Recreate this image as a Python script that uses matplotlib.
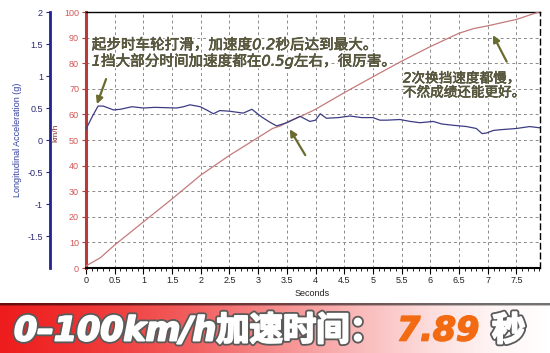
import numpy as np
import matplotlib
matplotlib.use("Agg")
import matplotlib.pyplot as plt
import matplotlib.patheffects as pe
from matplotlib.ticker import MultipleLocator

plt.rcParams['font.family'] = ['Liberation Sans', 'Noto Sans CJK SC', 'DejaVu Sans']

# ---------------- data ----------------
speed_t = [0, 0.25, 0.5, 1.0, 1.5, 2.0, 2.5, 3.0, 3.25, 3.4, 3.5, 3.75, 4.0, 4.5,
           5.0, 5.5, 6.0, 6.5, 6.75, 7.0, 7.5, 7.89]
speed_kmh = [0.8, 4.0, 9.0, 18.0, 27.0, 36.3, 44.0, 51.0, 54.5, 55.6, 57.0, 59.3,
             62.0, 68.5, 74.7, 80.8, 86.5, 91.7, 93.5, 94.6, 97.1, 100.0]

acc_t = [0, 0.1, 0.21, 0.3, 0.48, 0.6, 0.8, 1.0, 1.2, 1.58, 1.7, 1.81, 1.99, 2.1,
         2.22, 2.33, 2.5, 2.74, 2.89, 3.06, 3.2, 3.32, 3.5, 3.73, 3.9, 4.0, 4.08,
         4.19, 4.4, 4.6, 4.8, 5.0, 5.12, 5.24, 5.47, 5.65, 5.82, 6.05, 6.2, 6.4,
         6.63, 6.8, 6.9, 6.98, 7.1, 7.21, 7.5, 7.73, 7.91]
acc_g = [0.17, 0.35, 0.53, 0.53, 0.47, 0.48, 0.52, 0.50, 0.51, 0.50, 0.52, 0.55,
         0.52, 0.47, 0.41, 0.46, 0.45, 0.42, 0.48, 0.36, 0.28, 0.22, 0.27, 0.37,
         0.29, 0.31, 0.41, 0.34, 0.35, 0.375, 0.35, 0.35, 0.31, 0.31, 0.32, 0.29,
         0.27, 0.29, 0.25, 0.23, 0.21, 0.18, 0.10, 0.11, 0.15, 0.16, 0.18, 0.21, 0.19]

x_ticks = [0, 0.5, 1, 1.5, 2, 2.5, 3, 3.5, 4, 4.5, 5, 5.5, 6, 6.5, 7, 7.5]
x_tick_labels = ['0', '0.5', '1', '1.5', '2', '2.5', '3', '3.5', '4', '4.5',
                 '5', '5.5', '6', '6.5', '7', '7.5']
speed_ticks = [0, 10, 20, 30, 40, 50, 60, 70, 80, 90, 100]
acc_ticks = [2, 1.5, 1, 0.5, 0, -0.5, -1, -1.5]

note1 = "起步时车轮打滑，加速度0.2秒后达到最大。\n1挡大部分时间加速度都在0.5g左右，很厉害。"
note2 = "2次换挡速度都慢，\n不然成绩还能更好。"
banner_label = "0–100km/h加速时间："
banner_value = "7.89"
banner_unit = "秒"

# ---------------- figure ----------------
W, H = 550, 353
fig = plt.figure(figsize=(W / 100, H / 100), dpi=100)
fig.patch.set_facecolor('white')

L, R, T, B = 86, 540, 12, 268
ax = fig.add_axes([L / W, 1 - B / H, (R - L) / W, (B - T) / H])
ax.set_xlim(0, 7.91)
ax.set_ylim(0, 100)

red = '#b83a3a'
blue = '#23238f'

ax.plot(speed_t, speed_kmh, color='#c47a7a', lw=0.9, zorder=3)

ax.set_xticks(x_ticks)
ax.set_xticklabels(x_tick_labels, fontsize=6.5, color='#222222')
ax.xaxis.set_minor_locator(MultipleLocator(0.1))
ax.tick_params(axis='x', which='major', length=4, width=0.8, direction='out', pad=2)
ax.tick_params(axis='x', which='minor', length=2, width=0.6, direction='out')
ax.set_yticks(speed_ticks)
ax.set_yticklabels([str(v) for v in speed_ticks], fontsize=6.5, color='#d05858')
ax.tick_params(axis='y', length=3, width=0.8, color=red, pad=2)

ax.grid(True, which='major', color='#8a8a8a', lw=0.7, linestyle=(0, (3, 3)))
ax.set_axisbelow(True)

ax.spines['left'].set_color(red)
ax.spines['left'].set_linewidth(2.2)
ax.spines['bottom'].set_color('black')
ax.spines['bottom'].set_linewidth(1.5)
ax.spines['top'].set_color('black')
ax.spines['top'].set_linewidth(1.0)
ax.spines['right'].set_linestyle((0, (4, 3)))
ax.spines['right'].set_linewidth(1.0)

ax2 = ax.twinx()
ax2.set_ylim(-2, 2)
ax2.plot(acc_t, acc_g, color='#3c3c84', lw=0.9, zorder=4)
ax2.spines['left'].set_visible(True)
ax2.spines['left'].set_position(('axes', -(L - 50) / (R - L)))
ax2.spines['left'].set_color(blue)
ax2.spines['left'].set_linewidth(2.0)
for s in ['right', 'top', 'bottom']:
    ax2.spines[s].set_visible(False)
ax2.yaxis.set_ticks_position('left')
ax2.yaxis.set_label_position('left')
ax2.set_yticks(acc_ticks)
ax2.set_yticklabels([f"{v:g}" for v in acc_ticks], fontsize=6.5, color='#2a2a70')
ax2.tick_params(axis='y', length=3, width=0.8, color=blue, pad=2)

fig.text(18 / W, 1 - 140 / H, "Longitudinal Acceleration (g)", rotation=90,
         ha='center', va='center', fontsize=6.5, color='#3040a0')
fig.text(56 / W, 1 - 133 / H, "km/h", rotation=90, ha='center', va='center',
         fontsize=6, color='#8a2a2a')
fig.text(312 / W, 1 - 294 / H, "Seconds", ha='center', va='center',
         fontsize=6.5, color='#222222')

# annotations
note_kw = dict(color='#58583f', style='italic', family=['DejaVu Sans', 'Noto Sans CJK SC'],
               path_effects=[pe.withStroke(linewidth=2.5, foreground='white'),
                             pe.Stroke(linewidth=0.4, foreground='#58583f'), pe.Normal()],
               zorder=6)
ax.text(0.1, 84, note1, fontsize=10.5, ha='left', va='center', linespacing=1.05, **note_kw)
ax.text(5.52, 71.3, note2, fontsize=9.8, ha='left', va='center', linespacing=1.0, **note_kw)

arrow_kw = dict(arrowstyle='-|>', color='#6b6b30', lw=1.6, mutation_scale=10,
                shrinkA=0, shrinkB=0)
ax.annotate('', xy=(0.19, 64), xytext=(0.35, 73.8), arrowprops=arrow_kw, zorder=7)
ax.annotate('', xy=(3.55, 54.2), xytext=(3.82, 44.1), arrowprops=arrow_kw, zorder=7)
ax.annotate('', xy=(7.09, 91), xytext=(7.33, 80.6), arrowprops=arrow_kw, zorder=7)

# ---------------- banner ----------------
by0 = 303
bax = fig.add_axes([0, 0, 1, (H - by0) / H])
bax.set_axis_off()
xs = np.linspace(0, 1, 400)
stops_x = [0.0, 0.15, 0.35, 0.5, 0.65, 0.8, 0.9, 1.0]
stops_r = [238, 240, 242, 246, 250, 253, 255, 255]
stops_g = [28, 50, 95, 140, 185, 225, 245, 255]
stops_b = [28, 50, 95, 140, 185, 225, 245, 255]
rgb = np.stack([np.interp(xs, stops_x, stops_r),
                np.interp(xs, stops_x, stops_g),
                np.interp(xs, stops_x, stops_b)], axis=-1) / 255.0
img = np.repeat(rgb[None, :, :], 50, axis=0)
img[:2] = img[:2] * 0.45
img[2:3] = img[2:3] * 0.75
bax.imshow(img, aspect='auto', extent=[0, 1, 0, 1], origin='upper')
bax.set_xlim(0, 1)
bax.set_ylim(0, 1)

stroke_white = [pe.withStroke(linewidth=4, foreground='#5a5a5a'),
                pe.Stroke(linewidth=1.4, foreground='white'), pe.Normal()]
stroke_orange = [pe.Stroke(linewidth=1.2, foreground='#f26b12'), pe.Normal()]
fig.text(14 / W, 1 - 331 / H, banner_label, fontsize=24, fontweight='bold', style='italic',
         color='white', ha='left', va='center',
         family=['DejaVu Sans', 'Noto Sans CJK SC'], path_effects=stroke_white)
fig.text(397 / W, 1 - 331 / H, banner_value, fontsize=24, fontweight='bold', style='italic',
         color='#f26b12', ha='left', va='center', family=['DejaVu Sans'],
         path_effects=stroke_orange)
fig.text(492 / W, 1 - 331 / H, banner_unit, fontsize=24, fontweight='bold',
         color='white', ha='left', va='center',
         family=['Noto Sans CJK SC'], path_effects=stroke_white)

fig.savefig('out.png', dpi=100)
